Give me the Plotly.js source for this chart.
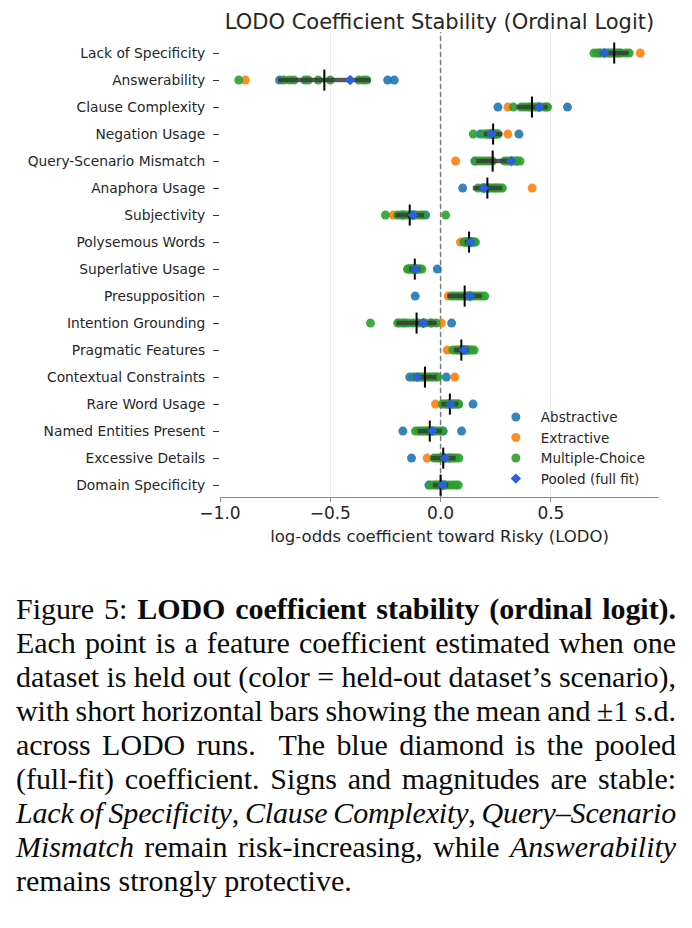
<!DOCTYPE html>
<html>
<head>
<meta charset="utf-8">
<script src="https://cdn.plot.ly/plotly-3.0.1.min.js"></script>
<style>
  html, body { margin: 0; padding: 0; background: #ffffff; }
  #page { position: relative; width: 692px; height: 928px; overflow: hidden; background: #ffffff; }
  #chart { position: absolute; left: 0; top: 0; width: 692px; height: 570px; }
  #caption {
    position: absolute; left: 16px; top: 592px; width: 660px;
    font-family: "Liberation Serif", "Times New Roman", serif;
    font-size: 30px; line-height: 34px; color: #0a0a0a;
  }
  #caption .ln { text-align: justify; text-align-last: justify; white-space: normal; word-spacing: -2px; }
  #caption .ln.last { text-align: left; text-align-last: left; word-spacing: 0; }
</style>
</head>
<body>
<div id="page">
  <div id="chart"></div>
  <div id="caption">
    <div class="ln">Figure 5: <b>LODO coefficient stability (ordinal logit).</b></div>
    <div class="ln">Each point is a feature coefficient estimated when one</div>
    <div class="ln">dataset is held out (color = held-out dataset’s scenario),</div>
    <div class="ln">with short horizontal bars showing the mean and ±1 s.d.</div>
    <div class="ln">across LODO runs. &nbsp;The blue diamond is the pooled</div>
    <div class="ln">(full-fit) coefficient. Signs and magnitudes are stable:</div>
    <div class="ln"><i>Lack of Specificity</i>, <i>Clause Complexity</i>, <i>Query–Scenario</i></div>
    <div class="ln"><i>Mismatch</i> remain risk-increasing, while <i>Answerability</i></div>
    <div class="ln last">remains strongly protective.</div>
  </div>
</div>
<script>
// Features, top to bottom
const features = [
  "Lack of Specificity", "Answerability", "Clause Complexity", "Negation Usage",
  "Query-Scenario Mismatch", "Anaphora Usage", "Subjectivity", "Polysemous Words",
  "Superlative Usage", "Presupposition", "Intention Grounding", "Pragmatic Features",
  "Contextual Constraints", "Rare Word Usage", "Named Entities Present",
  "Excessive Details", "Domain Specificity"
];

// LODO coefficients, grouped by the scenario of the held-out dataset
const abstractive = [
  [0.72, 0.77, 0.81],
  [-0.73, -0.24, -0.21],
  [0.26, 0.48, 0.575],
  [0.18, 0.215, 0.355],
  [0.155, 0.33, 0.345],
  [0.10, 0.19, 0.215],
  [-0.17, -0.12, -0.068],
  [0.12, 0.135, 0.145],
  [-0.125, -0.11, -0.015],
  [-0.115, 0.125, 0.14],
  [-0.08, -0.045, 0.05],
  [0.10, 0.115, 0.125],
  [-0.14, -0.125, 0.026],
  [0.035, 0.06, 0.147],
  [-0.171, 0.012, 0.095],
  [-0.132, 0.015, 0.04],
  [-0.053, 0.0, 0.02]
];
const extractive = [
  [0.905], [-0.885], [0.305], [0.305], [0.068], [0.415], [-0.215], [0.09],
  [-0.13], [0.035], [0.003], [0.03], [0.064], [-0.023], [-0.06], [-0.061], [-0.023]
];
const multipleChoice = [
  [0.695, 0.71, 0.73, 0.75, 0.76, 0.78, 0.79, 0.80, 0.82, 0.84, 0.855],
  [-0.915, -0.71, -0.685, -0.665, -0.615, -0.60, -0.555, -0.50, -0.37, -0.35, -0.335],
  [0.33, 0.365, 0.38, 0.395, 0.405, 0.415, 0.43, 0.44, 0.455, 0.47, 0.485],
  [0.148, 0.195, 0.205, 0.215, 0.225, 0.23, 0.24, 0.245, 0.25, 0.255, 0.26],
  [0.16, 0.175, 0.19, 0.205, 0.22, 0.235, 0.29, 0.305, 0.32, 0.345, 0.36],
  [0.17, 0.19, 0.205, 0.215, 0.225, 0.235, 0.245, 0.25, 0.26, 0.27, 0.28],
  [-0.25, -0.195, -0.18, -0.165, -0.15, -0.135, -0.12, -0.105, -0.09, -0.08, 0.023],
  [0.105, 0.11, 0.115, 0.12, 0.125, 0.13, 0.135, 0.14, 0.145, 0.15, 0.158],
  [-0.15, -0.145, -0.14, -0.135, -0.13, -0.12, -0.115, -0.11, -0.10, -0.095, -0.085],
  [0.05, 0.065, 0.08, 0.095, 0.11, 0.125, 0.14, 0.155, 0.17, 0.185, 0.20],
  [-0.318, -0.195, -0.185, -0.17, -0.16, -0.145, -0.125, -0.10, -0.07, -0.04, -0.02],
  [0.055, 0.07, 0.08, 0.09, 0.095, 0.10, 0.11, 0.12, 0.13, 0.14, 0.152],
  [-0.115, -0.10, -0.09, -0.08, -0.07, -0.06, -0.05, -0.04, -0.03, -0.02, -0.012],
  [0.008, 0.018, 0.027, 0.035, 0.042, 0.05, 0.057, 0.065, 0.072, 0.078, 0.083],
  [-0.114, -0.10, -0.09, -0.08, -0.07, -0.06, -0.045, -0.03, -0.02, -0.005, 0.008],
  [-0.03, -0.015, -0.005, 0.005, 0.015, 0.025, 0.04, 0.05, 0.06, 0.07, 0.083],
  [-0.045, -0.03, -0.015, -0.005, 0.005, 0.015, 0.025, 0.04, 0.055, 0.068, 0.08]
];

// Mean and standard deviation across LODO runs
const lodoMean = [0.787, -0.527, 0.414, 0.238, 0.236, 0.212, -0.14, 0.129, -0.117,
                  0.109, -0.109, 0.094, -0.071, 0.042, -0.049, 0.012, 0.0];
const lodoSd = [0.065, 0.21, 0.07, 0.042, 0.075, 0.066, 0.065, 0.02, 0.025,
                0.078, 0.091, 0.034, 0.053, 0.038, 0.055, 0.056, 0.035];

// Pooled (full-fit) coefficient
const pooled = [0.742, -0.41, 0.447, 0.23, 0.32, 0.197, -0.126, 0.136, -0.114,
                0.133, -0.079, 0.106, -0.106, 0.045, -0.038, 0.02, 0.008];

const xTickVals = [-1.0, -0.5, 0.0, 0.5];
const xTickText = ["\u22121.0", "\u22120.5", "0.0", "0.5"];
const xRange = [-1.0, 0.99];
const yRange = [16.44, -0.78];

const rowIdx = features.map((_, i) => i);

function pointsOf(groups) {
  const xs = [], ys = [];
  groups.forEach((vals, i) => vals.forEach(v => { xs.push(v); ys.push(i); }));
  return { xs, ys };
}

const DOT = 9;
function scenarioTrace(name, groups, color) {
  const p = pointsOf(groups);
  return {
    type: "scatter", mode: "markers", name: name,
    x: p.xs, y: p.ys,
    marker: { size: DOT, color: color, opacity: 0.9, line: { width: 0 } },
    hovertemplate: "%{x:.3f}<extra>" + name + "</extra>"
  };
}

// ±1 s.d. bars and mean ticks
const sdX = [], sdY = [], meanX = [], meanY = [];
lodoMean.forEach((m, i) => {
  sdX.push(m - lodoSd[i], m + lodoSd[i], null);
  sdY.push(i, i, null);
  meanX.push(m, m, null);
  meanY.push(i - 0.39, i + 0.39, null);
});

const traces = [
  // dashed reference line at zero
  {
    type: "scatter", mode: "lines", x: [0, 0], y: yRange, showlegend: false, hoverinfo: "skip",
    line: { color: "#7d7d7d", width: 1.5, dash: "5px,3px" }, cliponaxis: true
  },
  scenarioTrace("Abstractive", abstractive, "#1f77b4"),
  scenarioTrace("Extractive", extractive, "#ff7f0e"),
  scenarioTrace("Multiple-Choice", multipleChoice, "#2ca02c"),
  {
    type: "scatter", mode: "lines", x: sdX, y: sdY, showlegend: false, hoverinfo: "skip",
    line: { color: "rgba(58,58,58,0.85)", width: 4.5 }
  },
  {
    type: "scatter", mode: "lines", x: meanX, y: meanY, showlegend: false, hoverinfo: "skip",
    line: { color: "#000000", width: 2 }
  },
  {
    type: "scatter", mode: "markers", name: "Pooled (full fit)",
    x: pooled, y: rowIdx,
    marker: { symbol: "diamond", size: 8, color: "#2b5fe0", line: { width: 0 } },
    hovertemplate: "%{x:.3f}<extra>Pooled</extra>"
  }
];

const layout = {
  width: 692, height: 570,
  margin: { l: 220, r: 33, t: 32, b: 73 },
  paper_bgcolor: "#ffffff", plot_bgcolor: "#ffffff",
  font: { family: "DejaVu Sans, sans-serif", color: "#262626" },
  title: {
    text: "LODO Coefficient Stability (Ordinal Logit)",
    font: { size: 21, color: "#262626" },
    x: 0.5, xref: "paper", xanchor: "center",
    y: 1 - 22 / 570, yref: "container", yanchor: "middle"
  },
  xaxis: {
    range: xRange,
    tickmode: "array", tickvals: xTickVals, ticktext: xTickText,
    showgrid: true, gridcolor: "#ebebeb", gridwidth: 1,
    zeroline: false,
    showline: true, linecolor: "#8a8a8a", linewidth: 1,
    ticks: "outside", ticklen: 4, tickcolor: "#8a8a8a", tickwidth: 1,
    ticklabelstandoff: -3,
    tickfont: { size: 17, color: "#262626" },
    title: { text: "log-odds coefficient toward Risky (LODO)", font: { size: 16.5, color: "#262626" }, standoff: 8 },
    fixedrange: true
  },
  yaxis: {
    range: yRange,
    tickmode: "array", tickvals: rowIdx, ticktext: features,
    showgrid: false, zeroline: false, showline: false,
    ticks: "outside", ticklen: 6, tickcolor: "#333333", tickwidth: 1,
    ticklabelstandoff: 5,
    tickfont: { size: 13.8, color: "#262626" },
    fixedrange: true
  },
  legend: {
    x: 0.617, xanchor: "left", y: 0.205, yanchor: "top",
    itemwidth: 40,
    bgcolor: "rgba(0,0,0,0)", borderwidth: 0,
    font: { size: 13.5, color: "#262626" },
    itemclick: false, itemdoubleclick: false
  },
  showlegend: true
};

Plotly.newPlot("chart", traces, layout, { displayModeBar: false, staticPlot: true });

// Keep each caption line on one row: tighten letter spacing where a line still runs long
const CAPTION_WIDTH = 660;
document.querySelectorAll("#caption .ln").forEach(el => {
  const html = el.innerHTML;
  const probe = document.createElement("span");
  probe.style.whiteSpace = "nowrap";
  probe.innerHTML = html;
  el.innerHTML = "";
  el.appendChild(probe);          // inherits the line's own word spacing
  const natural = probe.getBoundingClientRect().width;
  el.innerHTML = html;
  if (natural > CAPTION_WIDTH - 1) {
    const chars = el.textContent.replace(/\s+/g, "").length || 1;
    el.style.letterSpacing = (-(natural - CAPTION_WIDTH + 2) / chars).toFixed(3) + "px";
  }
});
</script>
</body>
</html>
